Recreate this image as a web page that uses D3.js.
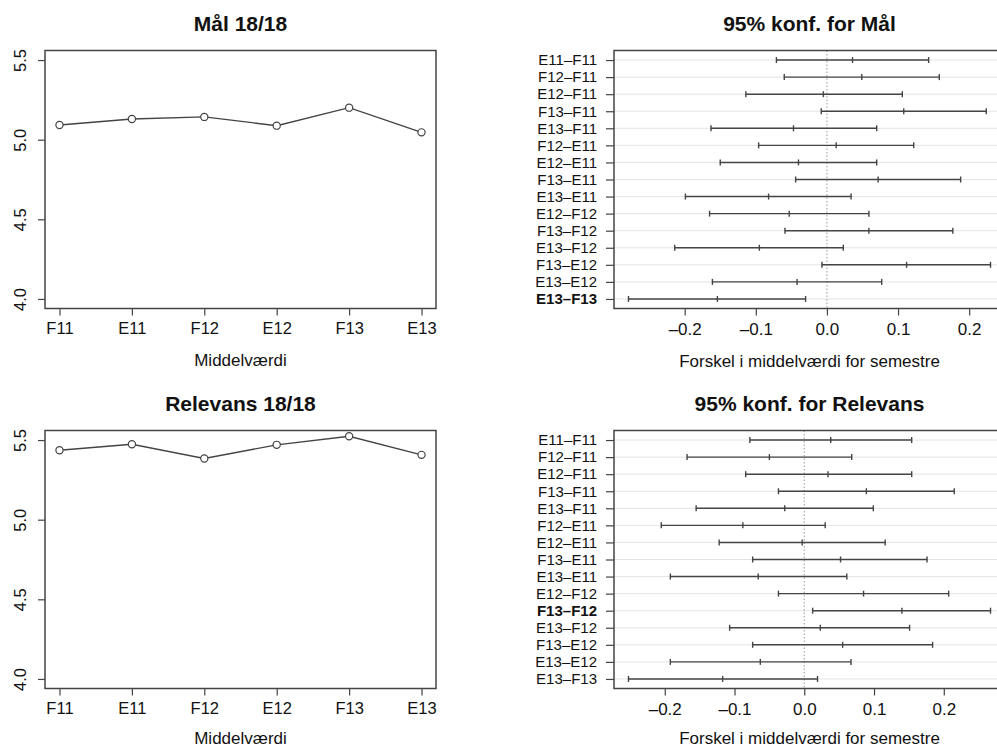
<!DOCTYPE html>
<html>
<head>
<meta charset="utf-8">
<script src="https://cdn.jsdelivr.net/npm/d3@7"></script>
<style>
  html, body { margin: 0; padding: 0; background: #fff; }
  svg { display: block; font-family: "Liberation Sans", Arial, Helvetica, sans-serif; }
</style>
</head>
<body>
<svg id="chart" width="997" height="749"></svg>
<script>
// ---- data ----
const semesters = ["F11", "E11", "F12", "E12", "F13", "E13"];
const malMeans = [5.092, 5.130, 5.143, 5.088, 5.201, 5.046];
const relMeans = [5.436, 5.474, 5.384, 5.470, 5.524, 5.407];
const yTicksLeft = [4.0, 4.5, 5.0, 5.5];

const pairs = ["E11–F11", "F12–F11", "E12–F11", "F13–F11", "E13–F11", "F12–E11", "E12–E11",
  "F13–E11", "E13–E11", "E12–F12", "F13–F12", "E13–F12", "F13–E12", "E13–E12", "E13–F13"];
const malDiff = [0.036, 0.049, -0.005, 0.108, -0.047, 0.013, -0.040, 0.072, -0.082, -0.053, 0.059, -0.095, 0.112, -0.042, -0.154];
const malLo = [-0.071, -0.060, -0.114, -0.008, -0.163, -0.096, -0.150, -0.044, -0.199, -0.165, -0.059, -0.214, -0.007, -0.161, -0.279];
const malHi = [0.143, 0.158, 0.106, 0.224, 0.070, 0.122, 0.070, 0.188, 0.034, 0.059, 0.177, 0.023, 0.230, 0.077, -0.030];
const relDiff = [0.038, -0.050, 0.034, 0.089, -0.028, -0.088, -0.003, 0.052, -0.066, 0.085, 0.140, 0.023, 0.055, -0.063, -0.117];
const relLo = [-0.078, -0.168, -0.084, -0.037, -0.155, -0.205, -0.122, -0.074, -0.192, -0.037, 0.012, -0.107, -0.074, -0.192, -0.252];
const relHi = [0.154, 0.068, 0.154, 0.215, 0.099, 0.030, 0.116, 0.176, 0.061, 0.207, 0.267, 0.151, 0.184, 0.067, 0.019];
const xTicksRight = [-0.2, -0.1, 0.0, 0.1, 0.2];

const titles = {
  malLine: "Mål 18/18", malCI: "95% konf. for Mål",
  relLine: "Relevans 18/18", relCI: "95% konf. for Relevans"
};
const xLabelLeft = "Middelværdi";
const xLabelRight = "Forskel i middelværdi for semestre";

// ---- layout ----
const svg = d3.select("#chart");
const INK = "#444";
const TXT = "#111";
const fmtNum = v => (v < 0 ? "–" : "") + Math.abs(v).toFixed(1);

function linePanel(top, title, means, labelY) {
  const x0 = 45, x1 = 436, y0 = top, y1 = top + 258;
  const g = svg.append("g");
  const x = d3.scaleLinear().domain([0.8, 6.2]).range([x0, x1]);
  const y = d3.scaleLinear().domain([3.94, 5.56]).range([y1, y0]);
  const idx = semesters.map((s, i) => i + 1);

  const xa = g.append("g").attr("transform", `translate(0,${y1})`)
    .call(d3.axisBottom(x).tickValues(idx).tickFormat(i => semesters[i - 1]).tickSize(7).tickPadding(7));
  xa.select(".domain").remove();
  xa.selectAll("line").attr("stroke", INK).attr("stroke-width", 1.2);
  xa.selectAll("text").attr("font-size", 16.5).attr("fill", TXT).attr("font-family", null);

  const ya = g.append("g").attr("transform", `translate(${x0},0)`)
    .call(d3.axisLeft(y).tickValues(yTicksLeft).tickSize(7).tickFormat(d3.format(".1f")));
  ya.select(".domain").remove();
  ya.selectAll("line").attr("stroke", INK).attr("stroke-width", 1.2);
  ya.selectAll("text").attr("font-size", 16.5).attr("fill", TXT).attr("font-family", null)
    .attr("x", null).attr("dy", null)
    .attr("text-anchor", "middle")
    .attr("transform", "translate(-19,0) rotate(-90)");

  g.append("rect").attr("x", x0).attr("y", y0).attr("width", x1 - x0).attr("height", y1 - y0)
    .attr("fill", "none").attr("stroke", INK).attr("stroke-width", 1.5);

  const data = means.map((v, i) => ({ i: i + 1, v }));
  g.append("path").datum(data)
    .attr("d", d3.line().x(d => x(d.i)).y(d => y(d.v)))
    .attr("fill", "none").attr("stroke", INK).attr("stroke-width", 1.4);
  g.selectAll("circle.pt").data(data).enter().append("circle")
    .attr("class", "pt").attr("cx", d => x(d.i)).attr("cy", d => y(d.v)).attr("r", 3.6)
    .attr("fill", "#fff").attr("stroke", INK).attr("stroke-width", 1.2);

  g.append("text").attr("x", (x0 + x1) / 2).attr("y", top - 19.5).attr("text-anchor", "middle")
    .attr("font-size", 21).attr("font-weight", "bold").attr("fill", TXT).text(title);
  g.append("text").attr("x", (x0 + x1) / 2).attr("y", labelY).attr("text-anchor", "middle")
    .attr("font-size", 17).attr("fill", TXT).text(xLabelLeft);
}

function ciPanel(top, title, diff, lo, hi, labelY) {
  const x0 = 614, x1 = 1005, y0 = top, y1 = top + 258;
  const g = svg.append("g");
  const mn = d3.min(lo), mx = d3.max(hi), pad = (mx - mn) * 0.04;
  const x = d3.scaleLinear().domain([mn - pad, mx + pad]).range([x0, x1]);
  const n = pairs.length;
  const y = d3.scaleLinear().domain([1 - 0.56, n + 0.56]).range([y0, y1]);

  g.selectAll("line.grid").data(pairs).enter().append("line")
    .attr("class", "grid").attr("x1", x0).attr("x2", x1)
    .attr("y1", (d, i) => y(i + 1)).attr("y2", (d, i) => y(i + 1))
    .attr("stroke", "#e4e4e4").attr("stroke-width", 1);

  g.append("line").attr("x1", x(0)).attr("x2", x(0)).attr("y1", y0).attr("y2", y1)
    .attr("stroke", "#999").attr("stroke-width", 1).attr("stroke-dasharray", "1.5,2");

  const xa = g.append("g").attr("transform", `translate(0,${y1})`)
    .call(d3.axisBottom(x).tickValues(xTicksRight).tickFormat(fmtNum).tickSize(7).tickPadding(7));
  xa.select(".domain").remove();
  xa.selectAll("line").attr("stroke", INK).attr("stroke-width", 1.2);
  xa.selectAll("text").attr("font-size", 17).attr("fill", TXT).attr("font-family", null);

  const sig = pairs.map((p, i) => lo[i] > 0 || hi[i] < 0);
  const ya = g.append("g").attr("transform", `translate(${x0},0)`)
    .call(d3.axisLeft(y).tickValues(d3.range(1, n + 1)).tickFormat(i => pairs[i - 1]).tickSize(8).tickPadding(9));
  ya.select(".domain").remove();
  ya.selectAll("line").attr("stroke", INK).attr("stroke-width", 1.2);
  ya.selectAll("text").attr("font-size", 15).attr("fill", TXT).attr("font-family", null)
    .attr("font-weight", i => sig[i - 1] ? "bold" : "normal");

  const data = pairs.map((p, i) => ({ i: i + 1, d: diff[i], lo: lo[i], hi: hi[i] }));
  const bars = g.selectAll("g.bar").data(data).enter().append("g").attr("class", "bar");
  bars.append("line").attr("x1", d => x(d.lo)).attr("x2", d => x(d.hi))
    .attr("y1", d => y(d.i)).attr("y2", d => y(d.i))
    .attr("stroke", INK).attr("stroke-width", 1.4);
  ["lo", "d", "hi"].forEach(k => {
    bars.append("line").attr("x1", d => x(d[k])).attr("x2", d => x(d[k]))
      .attr("y1", d => y(d.i) - 3).attr("y2", d => y(d.i) + 3)
      .attr("stroke", INK).attr("stroke-width", 1.4);
  });

  g.append("rect").attr("x", x0).attr("y", y0).attr("width", x1 - x0).attr("height", y1 - y0)
    .attr("fill", "none").attr("stroke", INK).attr("stroke-width", 1.5);

  g.append("text").attr("x", (x0 + x1) / 2).attr("y", top - 19.5).attr("text-anchor", "middle")
    .attr("font-size", 21).attr("font-weight", "bold").attr("fill", TXT).text(title);
  g.append("text").attr("x", (x0 + x1) / 2).attr("y", labelY).attr("text-anchor", "middle")
    .attr("font-size", 17).attr("fill", TXT).text(xLabelRight);
}

linePanel(50.5, titles.malLine, malMeans, 366);
ciPanel(50.5, titles.malCI, malDiff, malLo, malHi, 367);
linePanel(430.5, titles.relLine, relMeans, 744);
ciPanel(430.5, titles.relCI, relDiff, relLo, relHi, 744);
</script>
</body>
</html>
